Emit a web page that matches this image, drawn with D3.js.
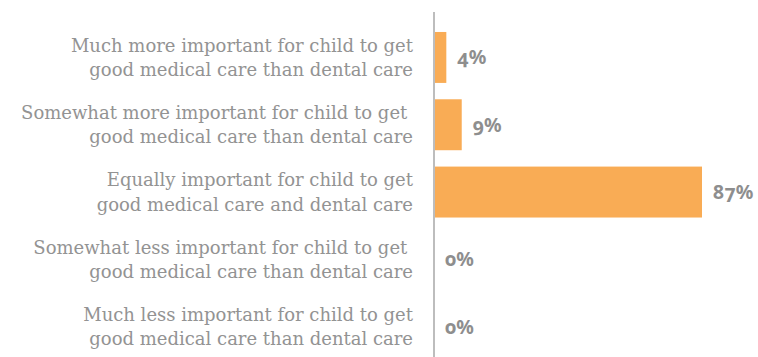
<!DOCTYPE html>
<html>
<head>
<meta charset="utf-8">
<script src="https://cdn.jsdelivr.net/npm/d3@7"></script>
<style>
  html, body { margin: 0; padding: 0; background: #fff; }
  svg { display: block; }
  .cat { font-family: "DejaVu Serif", "Liberation Serif", serif; font-size: 18px; fill: #939393; white-space: pre; }
  .val { font-family: "Noto Sans", "Open Sans", sans-serif; font-weight: 700; font-size: 19.5px; fill: #8e8e8e; font-variant-numeric: oldstyle-nums; }
</style>
</head>
<body>
<svg id="chart" width="758" height="357"></svg>
<script>
// Survey answers, top to bottom, each split over two lines
const categories = [
  ["Much more important for child to get", "good medical care than dental care"],
  ["Somewhat more important for child to get ", "good medical care than dental care"],
  ["Equally important for child to get", "good medical care and dental care"],
  ["Somewhat less important for child to get ", "good medical care than dental care"],
  ["Much less important for child to get", "good medical care than dental care"]
];
const values = [4, 9, 87, 0, 0];
const valueLabels = ["4%", "9%", "87%", "0%", "0%"];

const svg = d3.select("#chart");
const x0 = 434;

const x = d3.scaleLinear().domain([0, 87]).range([x0, 702]);
const y = d3.scaleBand()
  .domain(d3.range(categories.length))
  .range([23.8, 360.3])
  .paddingInner(0.243)
  .paddingOuter(0.1215);

// bars
svg.selectAll("rect.bar")
  .data(values)
  .join("rect")
  .attr("class", "bar")
  .attr("x", x0)
  .attr("y", (d, i) => y(i))
  .attr("width", d => x(d) - x0)
  .attr("height", y.bandwidth())
  .attr("fill", "#f9ac55");

// vertical baseline
svg.append("line")
  .attr("x1", x0).attr("x2", x0)
  .attr("y1", 12).attr("y2", 357)
  .attr("stroke", "#bdbdbd")
  .attr("stroke-width", 2);

// category labels
const cat = svg.selectAll("text.cat")
  .data(categories)
  .join("text")
  .attr("class", "cat")
  .attr("text-anchor", "end")
  .attr("x", 413)
  .attr("y", (d, i) => y(i) + y.bandwidth() / 2);
cat.selectAll("tspan")
  .data(d => d)
  .join("tspan")
  .attr("x", 413)
  .attr("dy", (d, j) => j === 0 ? -5.6 : 24.3)
  .text(d => d);

// value labels
svg.selectAll("text.val")
  .data(values)
  .join("text")
  .attr("class", "val")
  .attr("x", d => x(d) + 11)
  .attr("y", (d, i) => y(i) + y.bandwidth() / 2 + 7)
  .text((d, i) => valueLabels[i]);
</script>
</body>
</html>
